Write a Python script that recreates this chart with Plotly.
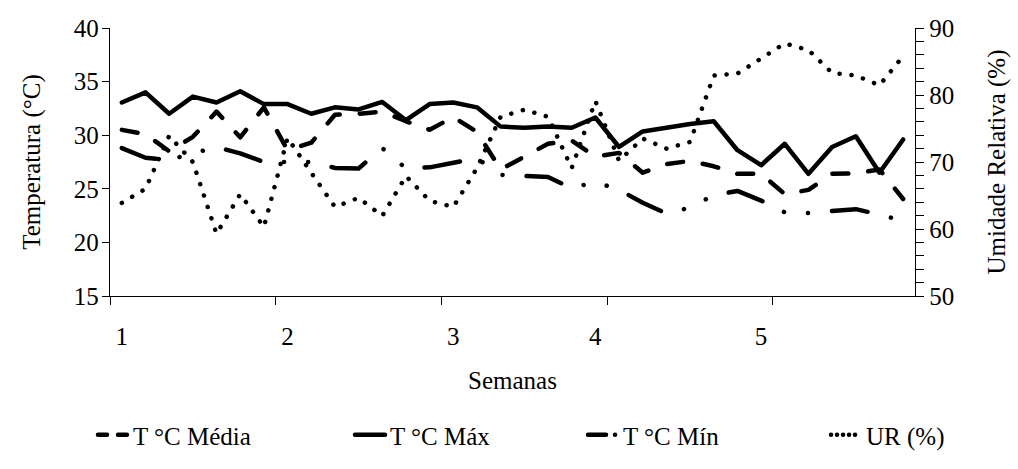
import plotly.graph_objects as go

# --- data ---
dias = list(range(1, 35))
semana_pos = [1, 8, 15, 21, 28]
semana_txt = ["1", "2", "3", "4", "5"]

t_media = [30.5, 30.1, 28.5, 29.85, 32.2, 29.8, 32.6, 28.6, 29.3, 31.9, 32.0, 32.2,
           31.3, 30.5, 31.7, 30.3, 26.8, 28.0, 29.2, 29.5, 28.0, 28.35, 26.5, 27.3,
           27.6, 27.1, 26.4, 26.4, 24.5, 24.9, 26.4, 26.45, 26.8, 24.05]
t_max = [33.05, 34.0, 32.0, 33.6, 33.05, 34.1, 32.9, 32.9, 32.0, 32.6, 32.4, 33.1,
         31.4, 32.9, 33.05, 32.6, 30.8, 30.7, 30.8, 30.7, 31.65, 28.9, 30.35, 30.75,
         31.05, 31.3, 28.6, 27.2, 29.2, 26.4, 28.9, 29.9, 26.5, 29.6]
t_min = [28.8, 27.9, 27.7, 28.3, 28.9, 28.3, 27.5, 27.5, 27.5, 26.95, 26.9, 28.8,
         26.9, 27.0, 27.4, 27.85, 26.3, 26.15, 26.1, 25.05, 25.65, 24.9, 23.7, 22.7,
         23.25, 24.4, 24.8, 23.9, 22.8, 22.75, 22.9, 23.1, 22.6, 22.0]
ur = [63.9, 66.0, 73.9, 70.0, 59.3, 65.2, 60.3, 73.6, 68.4, 63.3, 64.65, 61.95,
      67.9, 64.2, 63.3, 69.1, 76.75, 77.8, 76.75, 69.1, 79.1, 70.2, 73.5, 72.0,
      73.0, 82.9, 83.2, 85.5, 87.7, 86.7, 83.3, 82.9, 81.45, 85.8]

W, H = 1018, 469
FONT = "Liberation Serif"
FS = 25
LW = 4.5

fig = go.Figure()
fig.add_trace(go.Scatter(x=dias, y=t_media, mode="lines", name="T °C Média", legend="legend",
                         line=dict(color="black", width=LW, dash="16px,20px")))
fig.add_trace(go.Scatter(x=dias, y=t_max, mode="lines", name="T °C Máx", legend="legend2",
                         line=dict(color="black", width=LW)))
fig.add_trace(go.Scatter(x=dias, y=t_min, mode="lines", name="T °C Mín", legend="legend3",
                         line=dict(color="black", width=LW,
                                   dash="36px,24px,0.1px,24px,0.1px,24px")))
fig.add_trace(go.Scatter(x=dias, y=ur, mode="lines", name="UR (%)", yaxis="y2", legend="legend4",
                         line=dict(color="black", width=LW, dash="0.1px,11.9px")))

axis_common = dict(showgrid=False, zeroline=False, showline=True, linecolor="black",
                   linewidth=1.3, tickcolor="black", tickwidth=1.3, automargin=False,
                   tickfont=dict(family=FONT, size=FS, color="black"))


def leg(px_left):
    return dict(orientation="h", xref="container", x=px_left / W, xanchor="left",
                yref="container", y=1 - 435 / H, yanchor="middle",
                font=dict(family=FONT, size=FS, color="black"),
                bgcolor="rgba(0,0,0,0)", borderwidth=0)


fig.update_layout(
    width=W, height=H,
    margin=dict(l=110, r=103, t=28, b=173),
    paper_bgcolor="white", plot_bgcolor="white",
    font=dict(family=FONT, size=FS, color="black"),
    xaxis=dict(**axis_common, range=[0.5, 34.5], tickmode="array",
               tickvals=semana_pos, ticktext=semana_txt, ticks="",
               ticklabelstandoff=18,
               minor=dict(tickmode="array", tickvals=[0.5, 7.5, 14.5, 21.5, 28.5],
                          ticks="outside", ticklen=8, tickcolor="black", tickwidth=1.3),
               title=dict(text="Semanas", font=dict(family=FONT, size=FS), standoff=22)),
    yaxis=dict(**axis_common, range=[15, 40], dtick=5, tick0=15, ticks="outside", ticklen=7,
               ticklabelstandoff=-2,
               title=dict(text="Temperatura (°C)", font=dict(family=FONT, size=FS), standoff=26)),
    yaxis2=dict(**axis_common, range=[50, 90], dtick=10, tick0=50, ticks="outside", ticklen=8,
                overlaying="y", side="right",
                minor=dict(dtick=2, tick0=50, ticks="outside", ticklen=8,
                           tickcolor="black", tickwidth=1.3),
                title=dict(text="Umidade Relativa (%)", font=dict(family=FONT, size=FS), standoff=34)),
    legend=leg(93), legend2=leg(350), legend3=leg(583), legend4=leg(826),
    showlegend=True,
)

post = """
document.body.style.margin = '0';
document.body.style.overflow = 'hidden';
var gd = document.getElementById('{plot_id}');
gd.querySelectorAll('path.js-line').forEach(function(p){
  p.style.strokeLinecap = 'round';
  p.style.strokeLinejoin = 'round';
});
var pat = {'legend': '9,11', 'legend3': '18,9,0.1,20', 'legend4': '0.1,5.9'};
Object.keys(pat).forEach(function(k){
  var g = gd.querySelector('g.' + k);
  if (g) g.querySelectorAll('path.js-line').forEach(function(p){
    p.style.strokeDasharray = pat[k];
  });
});
"""
fig.write_html("out.html", post_script=post, config={"displayModeBar": False})
